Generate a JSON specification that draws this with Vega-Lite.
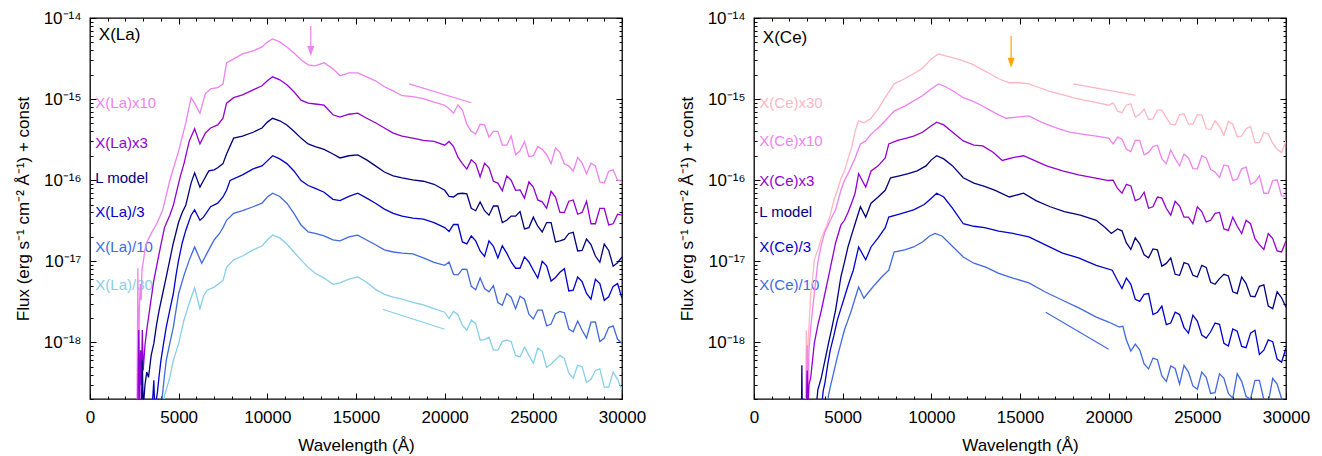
{
"$schema":"https://vega.github.io/schema/vega-lite/v6.json",
"padding":{"left":13,"top":8,"right":5,"bottom":5},
"spacing":30,
"resolve":{"scale":{"color":"independent"}},
"config":{"font":"Liberation Sans","view":{"stroke":"black","strokeWidth":1.3},"axis":{"labelColor":"black","titleColor":"black","tickColor":"black","labelFont":"Liberation Sans","titleFont":"Liberation Sans","tickWidth":1}},
"datasets":{
"la":[
{"s":"X(La)x10","w":2650,"f":1.5e-19},{"s":"X(La)x10","w":2700,"f":8.2e-18},{"s":"X(La)x10","w":2730,"f":1.5e-19},{"s":"X(La)x10","w":2780,"f":2.5e-18},{"s":"X(La)x10","w":2830,"f":5.1e-18},{"s":"X(La)x10","w":2880,"f":3.3e-18},{"s":"X(La)x10","w":2930,"f":7.8e-18},{"s":"X(La)x10","w":3000,"f":9.7e-18},{"s":"X(La)x10","w":3100,"f":1.4e-17},{"s":"X(La)x10","w":3200,"f":1.7e-17},{"s":"X(La)x10","w":3500,"f":2.3e-17},{"s":"X(La)x10","w":3800,"f":3.0e-17},{"s":"X(La)x10","w":4100,"f":4.3e-17},{"s":"X(La)x10","w":4500,"f":9.9e-17},{"s":"X(La)x10","w":5000,"f":2.3e-16},{"s":"X(La)x10","w":5400,"f":5.1e-16},{"s":"X(La)x10","w":5700,"f":1.04e-15},{"s":"X(La)x10","w":5900,"f":8.9e-16},{"s":"X(La)x10","w":6200,"f":6.7e-16},{"s":"X(La)x10","w":6500,"f":1.16e-15},{"s":"X(La)x10","w":6800,"f":1.34e-15},{"s":"X(La)x10","w":7200,"f":1.38e-15},{"s":"X(La)x10","w":7500,"f":1.54e-15},{"s":"X(La)x10","w":7700,"f":2.8e-15},{"s":"X(La)x10","w":8100,"f":3.13e-15},{"s":"X(La)x10","w":8600,"f":3.61e-15},{"s":"X(La)x10","w":9200,"f":3.93e-15},{"s":"X(La)x10","w":9700,"f":4.4e-15},{"s":"X(La)x10","w":10000,"f":5.07e-15},{"s":"X(La)x10","w":10300,"f":5.51e-15},{"s":"X(La)x10","w":10700,"f":5.07e-15},{"s":"X(La)x10","w":11100,"f":4.4e-15},{"s":"X(La)x10","w":11500,"f":3.71e-15},{"s":"X(La)x10","w":11900,"f":3.05e-15},{"s":"X(La)x10","w":12300,"f":2.64e-15},{"s":"X(La)x10","w":12700,"f":2.57e-15},{"s":"X(La)x10","w":13200,"f":2.8e-15},{"s":"X(La)x10","w":13700,"f":2.36e-15},{"s":"X(La)x10","w":14100,"f":1.94e-15},{"s":"X(La)x10","w":14600,"f":2.11e-15},{"s":"X(La)x10","w":15100,"f":2.11e-15},{"s":"X(La)x10","w":15600,"f":1.88e-15},{"s":"X(La)x10","w":16100,"f":1.68e-15},{"s":"X(La)x10","w":16600,"f":1.42e-15},{"s":"X(La)x10","w":17100,"f":1.26e-15},{"s":"X(La)x10","w":17600,"f":1.1e-15},{"s":"X(La)x10","w":18200,"f":1.07e-15},{"s":"X(La)x10","w":18800,"f":1.01e-15},{"s":"X(La)x10","w":19400,"f":9.2e-16},{"s":"X(La)x10","w":20000,"f":8.4e-16},{"s":"X(La)x10","w":20500,"f":6.7e-16},{"s":"X(La)x10","w":21000,"f":7.3e-16},{"s":"X(La)x10","w":21500,"f":4.0e-16},{"s":"X(La)x10","w":22000,"f":4.9e-16},{"s":"X(La)x10","w":22500,"f":3.4e-16},{"s":"X(La)x10","w":23000,"f":4.0e-16},{"s":"X(La)x10","w":23500,"f":2.7e-16},{"s":"X(La)x10","w":24000,"f":2.05e-16},{"s":"X(La)x10","w":24500,"f":3.0e-16},{"s":"X(La)x10","w":25000,"f":2.0e-16},{"s":"X(La)x10","w":25500,"f":2.4e-16},{"s":"X(La)x10","w":26000,"f":1.6e-16},{"s":"X(La)x10","w":26500,"f":2.2e-16},{"s":"X(La)x10","w":27000,"f":1.5e-16},{"s":"X(La)x10","w":27500,"f":1.9e-16},{"s":"X(La)x10","w":28000,"f":1.2e-16},{"s":"X(La)x10","w":28500,"f":1.5e-16},{"s":"X(La)x10","w":29000,"f":9.2e-17},{"s":"X(La)x10","w":29500,"f":1.34e-16},{"s":"X(La)x10","w":30000,"f":9.7e-17},
{"s":"X(La)x10","w":20250,"f":7.6e-16},{"s":"X(La)x10","w":20750,"f":8.5e-16},{"s":"X(La)x10","w":21250,"f":4.9e-16},{"s":"X(La)x10","w":21750,"f":3.7e-16},{"s":"X(La)x10","w":22250,"f":4.8e-16},{"s":"X(La)x10","w":22750,"f":4.0e-16},{"s":"X(La)x10","w":23250,"f":2.7e-16},{"s":"X(La)x10","w":23750,"f":3.5e-16},{"s":"X(La)x10","w":24250,"f":2.3e-16},{"s":"X(La)x10","w":24750,"f":1.95e-16},{"s":"X(La)x10","w":25250,"f":2.6e-16},{"s":"X(La)x10","w":25750,"f":2.06e-16},{"s":"X(La)x10","w":26250,"f":2.5e-16},{"s":"X(La)x10","w":26750,"f":1.58e-16},{"s":"X(La)x10","w":27250,"f":1.29e-16},{"s":"X(La)x10","w":27750,"f":1.62e-16},{"s":"X(La)x10","w":28250,"f":1.62e-16},{"s":"X(La)x10","w":28750,"f":9.5e-17},{"s":"X(La)x10","w":29250,"f":1.29e-16},{"s":"X(La)x10","w":29750,"f":1.0e-16},
{"s":"X(La)x3","w":2700,"f":1.5e-19},{"s":"X(La)x3","w":2750,"f":1.42e-18},{"s":"X(La)x3","w":2800,"f":1.5e-19},{"s":"X(La)x3","w":2850,"f":8.0e-19},{"s":"X(La)x3","w":2900,"f":3.0e-19},{"s":"X(La)x3","w":2950,"f":1.42e-18},{"s":"X(La)x3","w":3000,"f":4.5e-19},{"s":"X(La)x3","w":3100,"f":9.2e-19},{"s":"X(La)x3","w":3200,"f":1.42e-18},{"s":"X(La)x3","w":3400,"f":2.9e-18},{"s":"X(La)x3","w":3600,"f":5.8e-18},{"s":"X(La)x3","w":3800,"f":9.7e-18},{"s":"X(La)x3","w":4000,"f":1.6e-17},{"s":"X(La)x3","w":4200,"f":2.6e-17},{"s":"X(La)x3","w":4500,"f":3.7e-17},{"s":"X(La)x3","w":4700,"f":4.9e-17},{"s":"X(La)x3","w":4900,"f":7.5e-17},{"s":"X(La)x3","w":5100,"f":1.13e-16},{"s":"X(La)x3","w":5300,"f":1.6e-16},{"s":"X(La)x3","w":5600,"f":3.05e-16},{"s":"X(La)x3","w":5900,"f":4.3e-16},{"s":"X(La)x3","w":6200,"f":2.8e-16},{"s":"X(La)x3","w":6500,"f":3.8e-16},{"s":"X(La)x3","w":6800,"f":4.4e-16},{"s":"X(La)x3","w":7200,"f":4.8e-16},{"s":"X(La)x3","w":7500,"f":5.8e-16},{"s":"X(La)x3","w":7700,"f":8.9e-16},{"s":"X(La)x3","w":8100,"f":1.04e-15},{"s":"X(La)x3","w":8600,"f":1.13e-15},{"s":"X(La)x3","w":9200,"f":1.3e-15},{"s":"X(La)x3","w":9700,"f":1.46e-15},{"s":"X(La)x3","w":10000,"f":1.68e-15},{"s":"X(La)x3","w":10300,"f":1.88e-15},{"s":"X(La)x3","w":10700,"f":1.73e-15},{"s":"X(La)x3","w":11100,"f":1.5e-15},{"s":"X(La)x3","w":11500,"f":1.23e-15},{"s":"X(La)x3","w":11900,"f":9.7e-16},{"s":"X(La)x3","w":12300,"f":8.9e-16},{"s":"X(La)x3","w":12700,"f":8.7e-16},{"s":"X(La)x3","w":13200,"f":8.4e-16},{"s":"X(La)x3","w":13700,"f":6.4e-16},{"s":"X(La)x3","w":14100,"f":6.0e-16},{"s":"X(La)x3","w":14600,"f":6.5e-16},{"s":"X(La)x3","w":15100,"f":6.7e-16},{"s":"X(La)x3","w":15600,"f":5.8e-16},{"s":"X(La)x3","w":16100,"f":5.1e-16},{"s":"X(La)x3","w":16600,"f":4.4e-16},{"s":"X(La)x3","w":17100,"f":3.8e-16},{"s":"X(La)x3","w":17600,"f":3.5e-16},{"s":"X(La)x3","w":18200,"f":3.3e-16},{"s":"X(La)x3","w":18800,"f":3.1e-16},{"s":"X(La)x3","w":19400,"f":3.0e-16},{"s":"X(La)x3","w":20000,"f":2.7e-16},{"s":"X(La)x3","w":20500,"f":2.6e-16},{"s":"X(La)x3","w":21000,"f":1.6e-16},{"s":"X(La)x3","w":21500,"f":1.78e-16},{"s":"X(La)x3","w":22000,"f":1.1e-16},{"s":"X(La)x3","w":22500,"f":1.42e-16},{"s":"X(La)x3","w":23000,"f":9.2e-17},{"s":"X(La)x3","w":23500,"f":1.13e-16},{"s":"X(La)x3","w":24000,"f":7.5e-17},{"s":"X(La)x3","w":24500,"f":6.0e-17},{"s":"X(La)x3","w":25000,"f":8.2e-17},{"s":"X(La)x3","w":25500,"f":5.4e-17},{"s":"X(La)x3","w":26000,"f":7.3e-17},{"s":"X(La)x3","w":26500,"f":4.0e-17},{"s":"X(La)x3","w":27000,"f":5.5e-17},{"s":"X(La)x3","w":27500,"f":3.8e-17},{"s":"X(La)x3","w":28000,"f":5.5e-17},{"s":"X(La)x3","w":28500,"f":2.9e-17},{"s":"X(La)x3","w":29000,"f":4.5e-17},{"s":"X(La)x3","w":29500,"f":2.9e-17},{"s":"X(La)x3","w":30000,"f":3.7e-17},
{"s":"X(La)x3","w":20250,"f":3.0e-16},{"s":"X(La)x3","w":20750,"f":1.92e-16},{"s":"X(La)x3","w":21250,"f":1.37e-16},{"s":"X(La)x3","w":21750,"f":1.6e-16},{"s":"X(La)x3","w":22250,"f":1.62e-16},{"s":"X(La)x3","w":22750,"f":9.7e-17},{"s":"X(La)x3","w":23250,"f":7.4e-17},{"s":"X(La)x3","w":23750,"f":1.0e-16},{"s":"X(La)x3","w":24250,"f":7.6e-17},{"s":"X(La)x3","w":24750,"f":9.5e-17},{"s":"X(La)x3","w":25250,"f":5.7e-17},{"s":"X(La)x3","w":25750,"f":4.5e-17},{"s":"X(La)x3","w":26250,"f":6.2e-17},{"s":"X(La)x3","w":26750,"f":4.0e-17},{"s":"X(La)x3","w":27250,"f":5.7e-17},{"s":"X(La)x3","w":27750,"f":4.0e-17},{"s":"X(La)x3","w":28250,"f":2.9e-17},{"s":"X(La)x3","w":28750,"f":4.5e-17},{"s":"X(La)x3","w":29250,"f":2.8e-17},{"s":"X(La)x3","w":29750,"f":3.8e-17},
{"s":"L model","w":2900,"f":1.5e-19},{"s":"L model","w":2950,"f":6.0e-19},{"s":"L model","w":3000,"f":1.5e-19},{"s":"L model","w":3100,"f":3.0e-19},{"s":"L model","w":3200,"f":4.3e-19},{"s":"L model","w":3300,"f":3.7e-19},{"s":"L model","w":3450,"f":6.9e-19},{"s":"L model","w":3600,"f":9.7e-19},{"s":"L model","w":3750,"f":1.63e-18},{"s":"L model","w":3900,"f":2.5e-18},{"s":"L model","w":4100,"f":4.0e-18},{"s":"L model","w":4300,"f":6.4e-18},{"s":"L model","w":4500,"f":1.04e-17},{"s":"L model","w":4700,"f":1.68e-17},{"s":"L model","w":5000,"f":3.05e-17},{"s":"L model","w":5200,"f":4.0e-17},{"s":"L model","w":5400,"f":4.9e-17},{"s":"L model","w":5700,"f":9.2e-17},{"s":"L model","w":5900,"f":1.23e-16},{"s":"L model","w":6200,"f":8.2e-17},{"s":"L model","w":6400,"f":9.9e-17},{"s":"L model","w":6700,"f":1.3e-16},{"s":"L model","w":7000,"f":1.34e-16},{"s":"L model","w":7200,"f":1.42e-16},{"s":"L model","w":7500,"f":1.6e-16},{"s":"L model","w":7700,"f":2.1e-16},{"s":"L model","w":8100,"f":3.3e-16},{"s":"L model","w":8600,"f":3.5e-16},{"s":"L model","w":9200,"f":3.9e-16},{"s":"L model","w":9700,"f":4.4e-16},{"s":"L model","w":10000,"f":5.2e-16},{"s":"L model","w":10300,"f":5.8e-16},{"s":"L model","w":10700,"f":5.4e-16},{"s":"L model","w":11100,"f":4.8e-16},{"s":"L model","w":11500,"f":4.0e-16},{"s":"L model","w":11900,"f":3.3e-16},{"s":"L model","w":12300,"f":2.8e-16},{"s":"L model","w":12700,"f":2.6e-16},{"s":"L model","w":13200,"f":2.4e-16},{"s":"L model","w":13700,"f":2.1e-16},{"s":"L model","w":14100,"f":1.88e-16},{"s":"L model","w":14600,"f":2.0e-16},{"s":"L model","w":15100,"f":2.05e-16},{"s":"L model","w":15600,"f":1.78e-16},{"s":"L model","w":16100,"f":1.5e-16},{"s":"L model","w":16600,"f":1.26e-16},{"s":"L model","w":17100,"f":1.13e-16},{"s":"L model","w":17600,"f":1.07e-16},{"s":"L model","w":18200,"f":1.01e-16},{"s":"L model","w":18800,"f":9.7e-17},{"s":"L model","w":19400,"f":8.9e-17},{"s":"L model","w":20000,"f":7.5e-17},{"s":"L model","w":20500,"f":6.2e-17},{"s":"L model","w":21000,"f":6.9e-17},{"s":"L model","w":21500,"f":4.5e-17},{"s":"L model","w":22000,"f":5.4e-17},{"s":"L model","w":22500,"f":3.7e-17},{"s":"L model","w":23000,"f":4.8e-17},{"s":"L model","w":23500,"f":3.2e-17},{"s":"L model","w":24000,"f":3.6e-17},{"s":"L model","w":24500,"f":2.5e-17},{"s":"L model","w":25000,"f":3.5e-17},{"s":"L model","w":25500,"f":2.3e-17},{"s":"L model","w":26000,"f":3.0e-17},{"s":"L model","w":26500,"f":1.78e-17},{"s":"L model","w":27000,"f":2.2e-17},{"s":"L model","w":27500,"f":1.34e-17},{"s":"L model","w":28000,"f":1.88e-17},{"s":"L model","w":28500,"f":1.16e-17},{"s":"L model","w":29000,"f":1.63e-17},{"s":"L model","w":29500,"f":8.7e-18},{"s":"L model","w":30000,"f":1.13e-17},
{"s":"L model","w":20250,"f":6.3e-17},{"s":"L model","w":20750,"f":6.8e-17},{"s":"L model","w":21250,"f":6.8e-17},{"s":"L model","w":21750,"f":4.2e-17},{"s":"L model","w":22250,"f":4.2e-17},{"s":"L model","w":22750,"f":4.8e-17},{"s":"L model","w":23250,"f":3.0e-17},{"s":"L model","w":23750,"f":3.6e-17},{"s":"L model","w":24250,"f":4.1e-17},{"s":"L model","w":24750,"f":2.6e-17},{"s":"L model","w":25250,"f":2.7e-17},{"s":"L model","w":25750,"f":3.0e-17},{"s":"L model","w":26250,"f":1.73e-17},{"s":"L model","w":26750,"f":1.86e-17},{"s":"L model","w":27250,"f":2.27e-17},{"s":"L model","w":27750,"f":1.36e-17},{"s":"L model","w":28250,"f":1.61e-17},{"s":"L model","w":28750,"f":9.7e-18},{"s":"L model","w":29250,"f":1.36e-17},{"s":"L model","w":29750,"f":9.6e-18},
{"s":"X(La)/3","w":3500,"f":1.5e-19},{"s":"X(La)/3","w":3600,"f":3.4e-19},{"s":"X(La)/3","w":3650,"f":1.5e-19},{"s":"X(La)/3","w":3800,"f":2.4e-19},{"s":"X(La)/3","w":3900,"f":3.9e-19},{"s":"X(La)/3","w":4000,"f":6.0e-19},{"s":"X(La)/3","w":4150,"f":9.7e-19},{"s":"X(La)/3","w":4300,"f":1.54e-18},{"s":"X(La)/3","w":4500,"f":2.5e-18},{"s":"X(La)/3","w":4700,"f":4.0e-18},{"s":"X(La)/3","w":4850,"f":6.7e-18},{"s":"X(La)/3","w":5000,"f":1.04e-17},{"s":"X(La)/3","w":5200,"f":1.68e-17},{"s":"X(La)/3","w":5400,"f":2.4e-17},{"s":"X(La)/3","w":5700,"f":3.7e-17},{"s":"X(La)/3","w":5900,"f":4.3e-17},{"s":"X(La)/3","w":6200,"f":3.2e-17},{"s":"X(La)/3","w":6400,"f":3.5e-17},{"s":"X(La)/3","w":6800,"f":4.7e-17},{"s":"X(La)/3","w":7200,"f":5.2e-17},{"s":"X(La)/3","w":7500,"f":6.2e-17},{"s":"X(La)/3","w":7700,"f":7.5e-17},{"s":"X(La)/3","w":7900,"f":9.9e-17},{"s":"X(La)/3","w":8600,"f":1.16e-16},{"s":"X(La)/3","w":9200,"f":1.38e-16},{"s":"X(La)/3","w":9700,"f":1.5e-16},{"s":"X(La)/3","w":10000,"f":1.73e-16},{"s":"X(La)/3","w":10300,"f":2.0e-16},{"s":"X(La)/3","w":10700,"f":1.83e-16},{"s":"X(La)/3","w":11100,"f":1.6e-16},{"s":"X(La)/3","w":11500,"f":1.3e-16},{"s":"X(La)/3","w":11900,"f":9.9e-17},{"s":"X(La)/3","w":12300,"f":8.6e-17},{"s":"X(La)/3","w":12700,"f":7.9e-17},{"s":"X(La)/3","w":13200,"f":7.1e-17},{"s":"X(La)/3","w":13700,"f":5.8e-17},{"s":"X(La)/3","w":14100,"f":5.6e-17},{"s":"X(La)/3","w":14600,"f":6.3e-17},{"s":"X(La)/3","w":15100,"f":6.9e-17},{"s":"X(La)/3","w":15600,"f":6.0e-17},{"s":"X(La)/3","w":16100,"f":5.2e-17},{"s":"X(La)/3","w":16600,"f":4.4e-17},{"s":"X(La)/3","w":17100,"f":3.9e-17},{"s":"X(La)/3","w":17600,"f":3.6e-17},{"s":"X(La)/3","w":18200,"f":3.4e-17},{"s":"X(La)/3","w":18800,"f":3.3e-17},{"s":"X(La)/3","w":19400,"f":3.0e-17},{"s":"X(La)/3","w":20000,"f":2.6e-17},{"s":"X(La)/3","w":20500,"f":2.85e-17},{"s":"X(La)/3","w":21000,"f":1.73e-17},{"s":"X(La)/3","w":21500,"f":2.05e-17},{"s":"X(La)/3","w":22000,"f":1.34e-17},{"s":"X(La)/3","w":22500,"f":1.78e-17},{"s":"X(La)/3","w":23000,"f":1.1e-17},{"s":"X(La)/3","w":23500,"f":1.26e-17},{"s":"X(La)/3","w":24000,"f":8.2e-18},{"s":"X(La)/3","w":24500,"f":1.13e-17},{"s":"X(La)/3","w":25000,"f":7.75e-18},{"s":"X(La)/3","w":25500,"f":1.0e-17},{"s":"X(La)/3","w":26000,"f":5.7e-18},{"s":"X(La)/3","w":26500,"f":7.3e-18},{"s":"X(La)/3","w":27000,"f":4.3e-18},{"s":"X(La)/3","w":27500,"f":6.4e-18},{"s":"X(La)/3","w":28000,"f":4.0e-18},{"s":"X(La)/3","w":28500,"f":6.0e-18},{"s":"X(La)/3","w":29000,"f":3.3e-18},{"s":"X(La)/3","w":29500,"f":4.9e-18},{"s":"X(La)/3","w":30000,"f":3.5e-18},
{"s":"X(La)/3","w":20250,"f":2.33e-17},{"s":"X(La)/3","w":20750,"f":2.84e-17},{"s":"X(La)/3","w":21250,"f":1.64e-17},{"s":"X(La)/3","w":21750,"f":1.78e-17},{"s":"X(La)/3","w":22250,"f":1.15e-17},{"s":"X(La)/3","w":22750,"f":1.53e-17},{"s":"X(La)/3","w":23250,"f":1.55e-17},{"s":"X(La)/3","w":23750,"f":9.8e-18},{"s":"X(La)/3","w":24250,"f":8.2e-18},{"s":"X(La)/3","w":24750,"f":9.8e-18},{"s":"X(La)/3","w":25250,"f":6.2e-18},{"s":"X(La)/3","w":25750,"f":8.8e-18},{"s":"X(La)/3","w":26250,"f":6.3e-18},{"s":"X(La)/3","w":26750,"f":8.1e-18},{"s":"X(La)/3","w":27250,"f":4.4e-18},{"s":"X(La)/3","w":27750,"f":5.6e-18},{"s":"X(La)/3","w":28250,"f":3.4e-18},{"s":"X(La)/3","w":28750,"f":5.3e-18},{"s":"X(La)/3","w":29250,"f":3.65e-18},{"s":"X(La)/3","w":29750,"f":5.3e-18},
{"s":"X(La)/10","w":4000,"f":1.5e-19},{"s":"X(La)/10","w":4100,"f":2.4e-19},{"s":"X(La)/10","w":4200,"f":3.9e-19},{"s":"X(La)/10","w":4300,"f":6.0e-19},{"s":"X(La)/10","w":4500,"f":9.7e-19},{"s":"X(La)/10","w":4700,"f":1.54e-18},{"s":"X(La)/10","w":4850,"f":2.5e-18},{"s":"X(La)/10","w":5000,"f":4.0e-18},{"s":"X(La)/10","w":5300,"f":6.7e-18},{"s":"X(La)/10","w":5600,"f":1.04e-17},{"s":"X(La)/10","w":5900,"f":1.5e-17},{"s":"X(La)/10","w":6300,"f":9.45e-18},{"s":"X(La)/10","w":6600,"f":1.26e-17},{"s":"X(La)/10","w":7000,"f":1.83e-17},{"s":"X(La)/10","w":7300,"f":2.2e-17},{"s":"X(La)/10","w":7500,"f":2.6e-17},{"s":"X(La)/10","w":7700,"f":3.2e-17},{"s":"X(La)/10","w":8100,"f":3.9e-17},{"s":"X(La)/10","w":8600,"f":4.2e-17},{"s":"X(La)/10","w":9200,"f":4.7e-17},{"s":"X(La)/10","w":9700,"f":5.2e-17},{"s":"X(La)/10","w":10000,"f":6.2e-17},{"s":"X(La)/10","w":10300,"f":6.9e-17},{"s":"X(La)/10","w":10700,"f":6.3e-17},{"s":"X(La)/10","w":11100,"f":5.2e-17},{"s":"X(La)/10","w":11500,"f":3.9e-17},{"s":"X(La)/10","w":11900,"f":2.8e-17},{"s":"X(La)/10","w":12300,"f":2.3e-17},{"s":"X(La)/10","w":12700,"f":2.2e-17},{"s":"X(La)/10","w":13200,"f":2.05e-17},{"s":"X(La)/10","w":13700,"f":1.83e-17},{"s":"X(La)/10","w":14100,"f":1.78e-17},{"s":"X(La)/10","w":14600,"f":2.0e-17},{"s":"X(La)/10","w":15100,"f":2.1e-17},{"s":"X(La)/10","w":15600,"f":1.83e-17},{"s":"X(La)/10","w":16100,"f":1.6e-17},{"s":"X(La)/10","w":16600,"f":1.38e-17},{"s":"X(La)/10","w":17100,"f":1.3e-17},{"s":"X(La)/10","w":17600,"f":1.26e-17},{"s":"X(La)/10","w":18200,"f":1.23e-17},{"s":"X(La)/10","w":18800,"f":1.1e-17},{"s":"X(La)/10","w":19400,"f":9.7e-18},{"s":"X(La)/10","w":20000,"f":8.9e-18},{"s":"X(La)/10","w":20500,"f":6.9e-18},{"s":"X(La)/10","w":21000,"f":8.0e-18},{"s":"X(La)/10","w":21500,"f":4.9e-18},{"s":"X(La)/10","w":22000,"f":6.2e-18},{"s":"X(La)/10","w":22500,"f":4.2e-18},{"s":"X(La)/10","w":23000,"f":3.1e-18},{"s":"X(La)/10","w":23500,"f":4.0e-18},{"s":"X(La)/10","w":24000,"f":2.6e-18},{"s":"X(La)/10","w":24500,"f":3.4e-18},{"s":"X(La)/10","w":25000,"f":1.94e-18},{"s":"X(La)/10","w":25500,"f":2.5e-18},{"s":"X(La)/10","w":26000,"f":1.68e-18},{"s":"X(La)/10","w":26500,"f":2.4e-18},{"s":"X(La)/10","w":27000,"f":1.46e-18},{"s":"X(La)/10","w":27500,"f":1.83e-18},{"s":"X(La)/10","w":28000,"f":1.13e-18},{"s":"X(La)/10","w":28500,"f":1.78e-18},{"s":"X(La)/10","w":29000,"f":1.13e-18},{"s":"X(La)/10","w":29500,"f":1.6e-18},{"s":"X(La)/10","w":30000,"f":9.7e-19},
{"s":"X(La)/10","w":20250,"f":9.8e-18},{"s":"X(La)/10","w":20750,"f":6.8e-18},{"s":"X(La)/10","w":21250,"f":7.95e-18},{"s":"X(La)/10","w":21750,"f":4.45e-18},{"s":"X(La)/10","w":22250,"f":4.6e-18},{"s":"X(La)/10","w":22750,"f":5.0e-18},{"s":"X(La)/10","w":23250,"f":2.87e-18},{"s":"X(La)/10","w":23750,"f":3.6e-18},{"s":"X(La)/10","w":24250,"f":3.7e-18},{"s":"X(La)/10","w":24750,"f":2.22e-18},{"s":"X(La)/10","w":25250,"f":2.5e-18},{"s":"X(La)/10","w":25750,"f":1.6e-18},{"s":"X(La)/10","w":26250,"f":2.26e-18},{"s":"X(La)/10","w":26750,"f":2.32e-18},{"s":"X(La)/10","w":27250,"f":1.35e-18},{"s":"X(La)/10","w":27750,"f":1.41e-18},{"s":"X(La)/10","w":28250,"f":1.77e-18},{"s":"X(La)/10","w":28750,"f":1.02e-18},{"s":"X(La)/10","w":29250,"f":1.52e-18},{"s":"X(La)/10","w":29750,"f":1.09e-18},
{"s":"X(La)/30","w":4100,"f":1.5e-19},{"s":"X(La)/30","w":4200,"f":2.2e-19},{"s":"X(La)/30","w":4300,"f":2.6e-19},{"s":"X(La)/30","w":4500,"f":3.7e-19},{"s":"X(La)/30","w":4700,"f":6.0e-19},{"s":"X(La)/30","w":5000,"f":9.7e-19},{"s":"X(La)/30","w":5300,"f":1.88e-18},{"s":"X(La)/30","w":5600,"f":3.05e-18},{"s":"X(La)/30","w":5900,"f":4.7e-18},{"s":"X(La)/30","w":6200,"f":2.6e-18},{"s":"X(La)/30","w":6400,"f":3.7e-18},{"s":"X(La)/30","w":6600,"f":4.4e-18},{"s":"X(La)/30","w":7000,"f":4.8e-18},{"s":"X(La)/30","w":7500,"f":5.8e-18},{"s":"X(La)/30","w":7700,"f":8.4e-18},{"s":"X(La)/30","w":8100,"f":1.04e-17},{"s":"X(La)/30","w":8600,"f":1.16e-17},{"s":"X(La)/30","w":9200,"f":1.38e-17},{"s":"X(La)/30","w":9700,"f":1.54e-17},{"s":"X(La)/30","w":10000,"f":1.83e-17},{"s":"X(La)/30","w":10300,"f":2.1e-17},{"s":"X(La)/30","w":10700,"f":1.94e-17},{"s":"X(La)/30","w":11100,"f":1.63e-17},{"s":"X(La)/30","w":11500,"f":1.3e-17},{"s":"X(La)/30","w":11900,"f":1.04e-17},{"s":"X(La)/30","w":12300,"f":8.4e-18},{"s":"X(La)/30","w":12700,"f":7.1e-18},{"s":"X(La)/30","w":13200,"f":6.2e-18},{"s":"X(La)/30","w":13700,"f":5.2e-18},{"s":"X(La)/30","w":14100,"f":5.4e-18},{"s":"X(La)/30","w":14600,"f":6.0e-18},{"s":"X(La)/30","w":15100,"f":6.4e-18},{"s":"X(La)/30","w":15600,"f":5.5e-18},{"s":"X(La)/30","w":16100,"f":4.5e-18},{"s":"X(La)/30","w":16600,"f":3.9e-18},{"s":"X(La)/30","w":17100,"f":3.6e-18},{"s":"X(La)/30","w":17600,"f":3.4e-18},{"s":"X(La)/30","w":18200,"f":3.1e-18},{"s":"X(La)/30","w":18800,"f":2.9e-18},{"s":"X(La)/30","w":19400,"f":2.6e-18},{"s":"X(La)/30","w":20000,"f":2.35e-18},{"s":"X(La)/30","w":20500,"f":2.4e-18},{"s":"X(La)/30","w":21000,"f":1.63e-18},{"s":"X(La)/30","w":21500,"f":1.88e-18},{"s":"X(La)/30","w":22000,"f":1.07e-18},{"s":"X(La)/30","w":22500,"f":1.16e-18},{"s":"X(La)/30","w":23000,"f":8.0e-19},{"s":"X(La)/30","w":23500,"f":1.07e-18},{"s":"X(La)/30","w":24000,"f":6.9e-19},{"s":"X(La)/30","w":24500,"f":8.7e-19},{"s":"X(La)/30","w":25000,"f":5.5e-19},{"s":"X(La)/30","w":25500,"f":7.75e-19},{"s":"X(La)/30","w":26000,"f":5.4e-19},{"s":"X(La)/30","w":26500,"f":6.9e-19},{"s":"X(La)/30","w":27000,"f":4.2e-19},{"s":"X(La)/30","w":27500,"f":5.2e-19},{"s":"X(La)/30","w":28000,"f":3.2e-19},{"s":"X(La)/30","w":28500,"f":4.5e-19},{"s":"X(La)/30","w":29000,"f":2.8e-19},{"s":"X(La)/30","w":29500,"f":4.3e-19},{"s":"X(La)/30","w":30000,"f":2.6e-19},
{"s":"X(La)/30","w":20250,"f":1.96e-18},{"s":"X(La)/30","w":20750,"f":2.19e-18},{"s":"X(La)/30","w":21250,"f":1.41e-18},{"s":"X(La)/30","w":21750,"f":1.7e-18},{"s":"X(La)/30","w":22250,"f":1.08e-18},{"s":"X(La)/30","w":22750,"f":8.0e-19},{"s":"X(La)/30","w":23250,"f":1.02e-18},{"s":"X(La)/30","w":23750,"f":1.02e-18},{"s":"X(La)/30","w":24250,"f":6.6e-19},{"s":"X(La)/30","w":24750,"f":6.9e-19},{"s":"X(La)/30","w":25250,"f":8.5e-19},{"s":"X(La)/30","w":25750,"f":4.9e-19},{"s":"X(La)/30","w":26250,"f":6.1e-19},{"s":"X(La)/30","w":26750,"f":6.3e-19},{"s":"X(La)/30","w":27250,"f":3.6e-19},{"s":"X(La)/30","w":27750,"f":5.0e-19},{"s":"X(La)/30","w":28250,"f":3.5e-19},{"s":"X(La)/30","w":28750,"f":4.7e-19},{"s":"X(La)/30","w":29250,"f":2.8e-19},{"s":"X(La)/30","w":29750,"f":3.5e-19}
],
"ce":[
{"s":"X(Ce)x30","w":2900,"f":1.5e-19},{"s":"X(Ce)x30","w":2950,"f":1.42e-18},{"s":"X(Ce)x30","w":3000,"f":1.5e-19},{"s":"X(Ce)x30","w":3050,"f":1.07e-18},{"s":"X(Ce)x30","w":3100,"f":1.54e-18},{"s":"X(Ce)x30","w":3200,"f":4.0e-18},{"s":"X(Ce)x30","w":3300,"f":5.8e-18},{"s":"X(Ce)x30","w":3400,"f":1.04e-17},{"s":"X(Ce)x30","w":3600,"f":1.38e-17},{"s":"X(Ce)x30","w":3800,"f":1.94e-17},{"s":"X(Ce)x30","w":4050,"f":2.6e-17},{"s":"X(Ce)x30","w":4300,"f":3.7e-17},{"s":"X(Ce)x30","w":4500,"f":5.6e-17},{"s":"X(Ce)x30","w":4700,"f":7.5e-17},{"s":"X(Ce)x30","w":4900,"f":1.04e-16},{"s":"X(Ce)x30","w":5100,"f":1.3e-16},{"s":"X(Ce)x30","w":5300,"f":1.83e-16},{"s":"X(Ce)x30","w":5500,"f":2.5e-16},{"s":"X(Ce)x30","w":5700,"f":4.0e-16},{"s":"X(Ce)x30","w":5900,"f":5.4e-16},{"s":"X(Ce)x30","w":6200,"f":5.1e-16},{"s":"X(Ce)x30","w":6600,"f":5.8e-16},{"s":"X(Ce)x30","w":7000,"f":7.5e-16},{"s":"X(Ce)x30","w":7400,"f":1.04e-15},{"s":"X(Ce)x30","w":7900,"f":1.54e-15},{"s":"X(Ce)x30","w":8500,"f":1.78e-15},{"s":"X(Ce)x30","w":9000,"f":2.05e-15},{"s":"X(Ce)x30","w":9500,"f":2.4e-15},{"s":"X(Ce)x30","w":10000,"f":3.13e-15},{"s":"X(Ce)x30","w":10400,"f":3.61e-15},{"s":"X(Ce)x30","w":10800,"f":3.4e-15},{"s":"X(Ce)x30","w":11300,"f":3.2e-15},{"s":"X(Ce)x30","w":11800,"f":2.96e-15},{"s":"X(Ce)x30","w":12300,"f":2.7e-15},{"s":"X(Ce)x30","w":12800,"f":2.36e-15},{"s":"X(Ce)x30","w":13300,"f":2.05e-15},{"s":"X(Ce)x30","w":13800,"f":1.78e-15},{"s":"X(Ce)x30","w":14400,"f":1.59e-15},{"s":"X(Ce)x30","w":15000,"f":1.59e-15},{"s":"X(Ce)x30","w":15500,"f":1.54e-15},{"s":"X(Ce)x30","w":16100,"f":1.38e-15},{"s":"X(Ce)x30","w":16600,"f":1.26e-15},{"s":"X(Ce)x30","w":17200,"f":1.16e-15},{"s":"X(Ce)x30","w":17600,"f":1.1e-15},{"s":"X(Ce)x30","w":18000,"f":1.04e-15},{"s":"X(Ce)x30","w":18600,"f":9.7e-16},{"s":"X(Ce)x30","w":19200,"f":9.2e-16},{"s":"X(Ce)x30","w":20000,"f":8.4e-16},{"s":"X(Ce)x30","w":20500,"f":7.1e-16},{"s":"X(Ce)x30","w":21000,"f":8.4e-16},{"s":"X(Ce)x30","w":21500,"f":6.0e-16},{"s":"X(Ce)x30","w":22000,"f":7.5e-16},{"s":"X(Ce)x30","w":22500,"f":5.7e-16},{"s":"X(Ce)x30","w":23000,"f":7.3e-16},{"s":"X(Ce)x30","w":23500,"f":4.9e-16},{"s":"X(Ce)x30","w":24000,"f":6.4e-16},{"s":"X(Ce)x30","w":24500,"f":4.9e-16},{"s":"X(Ce)x30","w":25000,"f":6.4e-16},{"s":"X(Ce)x30","w":25500,"f":4.3e-16},{"s":"X(Ce)x30","w":26000,"f":5.4e-16},{"s":"X(Ce)x30","w":26500,"f":3.6e-16},{"s":"X(Ce)x30","w":27000,"f":4.9e-16},{"s":"X(Ce)x30","w":27500,"f":3.5e-16},{"s":"X(Ce)x30","w":28000,"f":4.6e-16},{"s":"X(Ce)x30","w":28500,"f":2.9e-16},{"s":"X(Ce)x30","w":29000,"f":3.7e-16},{"s":"X(Ce)x30","w":29500,"f":2.4e-16},{"s":"X(Ce)x30","w":30000,"f":3.05e-16},
{"s":"X(Ce)x30","w":20250,"f":9.0e-16},{"s":"X(Ce)x30","w":20750,"f":6.8e-16},{"s":"X(Ce)x30","w":21250,"f":8.75e-16},{"s":"X(Ce)x30","w":21750,"f":6.5e-16},{"s":"X(Ce)x30","w":22250,"f":5.6e-16},{"s":"X(Ce)x30","w":22750,"f":7.3e-16},{"s":"X(Ce)x30","w":23250,"f":5.9e-16},{"s":"X(Ce)x30","w":23750,"f":4.8e-16},{"s":"X(Ce)x30","w":24250,"f":6.6e-16},{"s":"X(Ce)x30","w":24750,"f":4.9e-16},{"s":"X(Ce)x30","w":25250,"f":6.4e-16},{"s":"X(Ce)x30","w":25750,"f":4.2e-16},{"s":"X(Ce)x30","w":26250,"f":4.6e-16},{"s":"X(Ce)x30","w":26750,"f":5.3e-16},{"s":"X(Ce)x30","w":27250,"f":3.4e-16},{"s":"X(Ce)x30","w":27750,"f":4.3e-16},{"s":"X(Ce)x30","w":28250,"f":2.9e-16},{"s":"X(Ce)x30","w":28750,"f":3.9e-16},{"s":"X(Ce)x30","w":29250,"f":2.86e-16},{"s":"X(Ce)x30","w":29750,"f":2.2e-16},
{"s":"X(Ce)x10","w":2950,"f":1.5e-19},{"s":"X(Ce)x10","w":3000,"f":9.2e-19},{"s":"X(Ce)x10","w":3050,"f":1.5e-19},{"s":"X(Ce)x10","w":3100,"f":8.0e-19},{"s":"X(Ce)x10","w":3200,"f":1.54e-18},{"s":"X(Ce)x10","w":3400,"f":4.0e-18},{"s":"X(Ce)x10","w":3600,"f":9.7e-18},{"s":"X(Ce)x10","w":3800,"f":1.6e-17},{"s":"X(Ce)x10","w":4000,"f":2.3e-17},{"s":"X(Ce)x10","w":4300,"f":3.2e-17},{"s":"X(Ce)x10","w":4600,"f":4.3e-17},{"s":"X(Ce)x10","w":4900,"f":7.5e-17},{"s":"X(Ce)x10","w":5100,"f":9.9e-17},{"s":"X(Ce)x10","w":5300,"f":1.2e-16},{"s":"X(Ce)x10","w":5500,"f":1.5e-16},{"s":"X(Ce)x10","w":5700,"f":1.88e-16},{"s":"X(Ce)x10","w":6000,"f":2.8e-16},{"s":"X(Ce)x10","w":6300,"f":3.05e-16},{"s":"X(Ce)x10","w":6600,"f":3.7e-16},{"s":"X(Ce)x10","w":7000,"f":4.4e-16},{"s":"X(Ce)x10","w":7400,"f":5.4e-16},{"s":"X(Ce)x10","w":7900,"f":7.1e-16},{"s":"X(Ce)x10","w":8500,"f":8.2e-16},{"s":"X(Ce)x10","w":9000,"f":9.5e-16},{"s":"X(Ce)x10","w":9500,"f":1.1e-15},{"s":"X(Ce)x10","w":10000,"f":1.34e-15},{"s":"X(Ce)x10","w":10400,"f":1.54e-15},{"s":"X(Ce)x10","w":10800,"f":1.42e-15},{"s":"X(Ce)x10","w":11300,"f":1.23e-15},{"s":"X(Ce)x10","w":11800,"f":1.04e-15},{"s":"X(Ce)x10","w":12300,"f":9.5e-16},{"s":"X(Ce)x10","w":12800,"f":8.4e-16},{"s":"X(Ce)x10","w":13300,"f":7.3e-16},{"s":"X(Ce)x10","w":13800,"f":6.4e-16},{"s":"X(Ce)x10","w":14200,"f":5.8e-16},{"s":"X(Ce)x10","w":14800,"f":6.0e-16},{"s":"X(Ce)x10","w":15500,"f":6.2e-16},{"s":"X(Ce)x10","w":16200,"f":5.2e-16},{"s":"X(Ce)x10","w":16700,"f":4.7e-16},{"s":"X(Ce)x10","w":17200,"f":4.3e-16},{"s":"X(Ce)x10","w":17800,"f":3.9e-16},{"s":"X(Ce)x10","w":18500,"f":3.7e-16},{"s":"X(Ce)x10","w":19300,"f":3.5e-16},{"s":"X(Ce)x10","w":20000,"f":3.3e-16},{"s":"X(Ce)x10","w":20500,"f":3.4e-16},{"s":"X(Ce)x10","w":21000,"f":2.4e-16},{"s":"X(Ce)x10","w":21500,"f":3.1e-16},{"s":"X(Ce)x10","w":22000,"f":2.05e-16},{"s":"X(Ce)x10","w":22500,"f":2.6e-16},{"s":"X(Ce)x10","w":23000,"f":1.83e-16},{"s":"X(Ce)x10","w":23500,"f":2.36e-16},{"s":"X(Ce)x10","w":24000,"f":1.5e-16},{"s":"X(Ce)x10","w":24500,"f":1.88e-16},{"s":"X(Ce)x10","w":25000,"f":1.38e-16},{"s":"X(Ce)x10","w":25500,"f":1.88e-16},{"s":"X(Ce)x10","w":26000,"f":1.26e-16},{"s":"X(Ce)x10","w":26500,"f":1.54e-16},{"s":"X(Ce)x10","w":27000,"f":9.9e-17},{"s":"X(Ce)x10","w":27500,"f":1.38e-16},{"s":"X(Ce)x10","w":28000,"f":8.9e-17},{"s":"X(Ce)x10","w":28500,"f":1.13e-16},{"s":"X(Ce)x10","w":29000,"f":6.9e-17},{"s":"X(Ce)x10","w":29500,"f":1.01e-16},{"s":"X(Ce)x10","w":30000,"f":6.3e-17},
{"s":"X(Ce)x10","w":20250,"f":2.8e-16},{"s":"X(Ce)x10","w":20750,"f":3.2e-16},{"s":"X(Ce)x10","w":21250,"f":2.25e-16},{"s":"X(Ce)x10","w":21750,"f":3.1e-16},{"s":"X(Ce)x10","w":22250,"f":2.2e-16},{"s":"X(Ce)x10","w":22750,"f":2.7e-16},{"s":"X(Ce)x10","w":23250,"f":1.6e-16},{"s":"X(Ce)x10","w":23750,"f":1.84e-16},{"s":"X(Ce)x10","w":24250,"f":2.1e-16},{"s":"X(Ce)x10","w":24750,"f":1.39e-16},{"s":"X(Ce)x10","w":25250,"f":2.0e-16},{"s":"X(Ce)x10","w":25750,"f":1.35e-16},{"s":"X(Ce)x10","w":26250,"f":1.08e-16},{"s":"X(Ce)x10","w":26750,"f":1.49e-16},{"s":"X(Ce)x10","w":27250,"f":1.03e-16},{"s":"X(Ce)x10","w":27750,"f":1.45e-16},{"s":"X(Ce)x10","w":28250,"f":9.5e-17},{"s":"X(Ce)x10","w":28750,"f":6.9e-17},{"s":"X(Ce)x10","w":29250,"f":9.9e-17},{"s":"X(Ce)x10","w":29750,"f":6.4e-17},
{"s":"X(Ce)x3","w":2950,"f":1.5e-19},{"s":"X(Ce)x3","w":3000,"f":4.5e-19},{"s":"X(Ce)x3","w":3050,"f":1.5e-19},{"s":"X(Ce)x3","w":3100,"f":3.0e-19},{"s":"X(Ce)x3","w":3200,"f":3.7e-19},{"s":"X(Ce)x3","w":3400,"f":9.7e-19},{"s":"X(Ce)x3","w":3600,"f":1.63e-18},{"s":"X(Ce)x3","w":3800,"f":2.5e-18},{"s":"X(Ce)x3","w":4000,"f":4.0e-18},{"s":"X(Ce)x3","w":4200,"f":6.4e-18},{"s":"X(Ce)x3","w":4400,"f":1.04e-17},{"s":"X(Ce)x3","w":4600,"f":1.68e-17},{"s":"X(Ce)x3","w":4900,"f":2.8e-17},{"s":"X(Ce)x3","w":5100,"f":3.2e-17},{"s":"X(Ce)x3","w":5300,"f":4.0e-17},{"s":"X(Ce)x3","w":5500,"f":5.2e-17},{"s":"X(Ce)x3","w":5700,"f":6.9e-17},{"s":"X(Ce)x3","w":5900,"f":1.2e-16},{"s":"X(Ce)x3","w":6100,"f":9.9e-17},{"s":"X(Ce)x3","w":6300,"f":8.2e-17},{"s":"X(Ce)x3","w":6600,"f":1.3e-16},{"s":"X(Ce)x3","w":7000,"f":1.5e-16},{"s":"X(Ce)x3","w":7400,"f":1.88e-16},{"s":"X(Ce)x3","w":7600,"f":2.8e-16},{"s":"X(Ce)x3","w":8100,"f":3.1e-16},{"s":"X(Ce)x3","w":8600,"f":3.3e-16},{"s":"X(Ce)x3","w":9000,"f":3.5e-16},{"s":"X(Ce)x3","w":9500,"f":3.9e-16},{"s":"X(Ce)x3","w":10000,"f":4.7e-16},{"s":"X(Ce)x3","w":10300,"f":5.2e-16},{"s":"X(Ce)x3","w":10700,"f":4.8e-16},{"s":"X(Ce)x3","w":11200,"f":3.9e-16},{"s":"X(Ce)x3","w":11800,"f":3.05e-16},{"s":"X(Ce)x3","w":12400,"f":2.7e-16},{"s":"X(Ce)x3","w":12900,"f":2.65e-16},{"s":"X(Ce)x3","w":13500,"f":2.2e-16},{"s":"X(Ce)x3","w":14000,"f":1.75e-16},{"s":"X(Ce)x3","w":14600,"f":1.9e-16},{"s":"X(Ce)x3","w":15200,"f":2.0e-16},{"s":"X(Ce)x3","w":15800,"f":1.75e-16},{"s":"X(Ce)x3","w":16500,"f":1.5e-16},{"s":"X(Ce)x3","w":17400,"f":1.3e-16},{"s":"X(Ce)x3","w":18300,"f":1.16e-16},{"s":"X(Ce)x3","w":19200,"f":1.07e-16},{"s":"X(Ce)x3","w":20000,"f":9.9e-17},{"s":"X(Ce)x3","w":20500,"f":7.9e-17},{"s":"X(Ce)x3","w":21000,"f":8.9e-17},{"s":"X(Ce)x3","w":21500,"f":5.6e-17},{"s":"X(Ce)x3","w":22000,"f":7.1e-17},{"s":"X(Ce)x3","w":22500,"f":4.7e-17},{"s":"X(Ce)x3","w":23000,"f":6.0e-17},{"s":"X(Ce)x3","w":23500,"f":3.7e-17},{"s":"X(Ce)x3","w":24000,"f":4.8e-17},{"s":"X(Ce)x3","w":24500,"f":3.5e-17},{"s":"X(Ce)x3","w":25000,"f":4.7e-17},{"s":"X(Ce)x3","w":25500,"f":3.05e-17},{"s":"X(Ce)x3","w":26000,"f":3.9e-17},{"s":"X(Ce)x3","w":26500,"f":2.5e-17},{"s":"X(Ce)x3","w":27000,"f":3.5e-17},{"s":"X(Ce)x3","w":27500,"f":2.2e-17},{"s":"X(Ce)x3","w":28000,"f":2.9e-17},{"s":"X(Ce)x3","w":28500,"f":1.6e-17},{"s":"X(Ce)x3","w":29000,"f":2.2e-17},{"s":"X(Ce)x3","w":29500,"f":1.34e-17},{"s":"X(Ce)x3","w":30000,"f":1.78e-17},
{"s":"X(Ce)x3","w":20250,"f":1.0e-16},{"s":"X(Ce)x3","w":20750,"f":6.9e-17},{"s":"X(Ce)x3","w":21250,"f":8.5e-17},{"s":"X(Ce)x3","w":21750,"f":5.9e-17},{"s":"X(Ce)x3","w":22250,"f":4.5e-17},{"s":"X(Ce)x3","w":22750,"f":6.2e-17},{"s":"X(Ce)x3","w":23250,"f":4.5e-17},{"s":"X(Ce)x3","w":23750,"f":5.5e-17},{"s":"X(Ce)x3","w":24250,"f":3.5e-17},{"s":"X(Ce)x3","w":24750,"f":2.9e-17},{"s":"X(Ce)x3","w":25250,"f":4.1e-17},{"s":"X(Ce)x3","w":25750,"f":3.2e-17},{"s":"X(Ce)x3","w":26250,"f":4.0e-17},{"s":"X(Ce)x3","w":26750,"f":2.4e-17},{"s":"X(Ce)x3","w":27250,"f":2.7e-17},{"s":"X(Ce)x3","w":27750,"f":3.2e-17},{"s":"X(Ce)x3","w":28250,"f":1.9e-17},{"s":"X(Ce)x3","w":28750,"f":1.4e-17},{"s":"X(Ce)x3","w":29250,"f":1.9e-17},{"s":"X(Ce)x3","w":29750,"f":1.3e-17},
{"s":"L model","w":2680,"f":1.5e-19},{"s":"L model","w":2700,"f":5.2e-19},{"s":"L model","w":2720,"f":1.5e-19},{"s":"L model","w":3500,"f":1.5e-19},{"s":"L model","w":3600,"f":2.6e-19},{"s":"L model","w":3800,"f":3.7e-19},{"s":"L model","w":4000,"f":6.0e-19},{"s":"L model","w":4200,"f":9.7e-19},{"s":"L model","w":4400,"f":1.54e-18},{"s":"L model","w":4600,"f":2.5e-18},{"s":"L model","w":4900,"f":6.4e-18},{"s":"L model","w":5100,"f":9.7e-18},{"s":"L model","w":5300,"f":1.5e-17},{"s":"L model","w":5500,"f":2.1e-17},{"s":"L model","w":5700,"f":2.9e-17},{"s":"L model","w":6000,"f":4.7e-17},{"s":"L model","w":6300,"f":3.5e-17},{"s":"L model","w":6600,"f":5.2e-17},{"s":"L model","w":7000,"f":6.2e-17},{"s":"L model","w":7400,"f":7.5e-17},{"s":"L model","w":7700,"f":1.07e-16},{"s":"L model","w":8200,"f":1.13e-16},{"s":"L model","w":8700,"f":1.2e-16},{"s":"L model","w":9200,"f":1.3e-16},{"s":"L model","w":9700,"f":1.5e-16},{"s":"L model","w":10000,"f":1.78e-16},{"s":"L model","w":10300,"f":2.0e-16},{"s":"L model","w":10700,"f":1.83e-16},{"s":"L model","w":11200,"f":1.5e-16},{"s":"L model","w":11800,"f":1.07e-16},{"s":"L model","w":12400,"f":9.2e-17},{"s":"L model","w":13000,"f":8.4e-17},{"s":"L model","w":13600,"f":7.5e-17},{"s":"L model","w":14400,"f":6.2e-17},{"s":"L model","w":15200,"f":6.9e-17},{"s":"L model","w":15900,"f":5.6e-17},{"s":"L model","w":16700,"f":4.7e-17},{"s":"L model","w":17500,"f":4.1e-17},{"s":"L model","w":18400,"f":3.7e-17},{"s":"L model","w":19300,"f":3.2e-17},{"s":"L model","w":19800,"f":2.6e-17},{"s":"L model","w":20500,"f":2.5e-17},{"s":"L model","w":21000,"f":1.68e-17},{"s":"L model","w":21500,"f":1.94e-17},{"s":"L model","w":22000,"f":1.2e-17},{"s":"L model","w":22500,"f":1.42e-17},{"s":"L model","w":23000,"f":8.7e-18},{"s":"L model","w":23500,"f":1.1e-17},{"s":"L model","w":24000,"f":6.7e-18},{"s":"L model","w":24500,"f":9.2e-18},{"s":"L model","w":25000,"f":6.4e-18},{"s":"L model","w":25500,"f":8.4e-18},{"s":"L model","w":26000,"f":5.2e-18},{"s":"L model","w":26500,"f":6.9e-18},{"s":"L model","w":27000,"f":4.2e-18},{"s":"L model","w":27500,"f":6.4e-18},{"s":"L model","w":28000,"f":3.7e-18},{"s":"L model","w":28500,"f":4.9e-18},{"s":"L model","w":29000,"f":2.8e-18},{"s":"L model","w":29500,"f":4.2e-18},{"s":"L model","w":30000,"f":2.7e-18},
{"s":"L model","w":20150,"f":2.2e-17},{"s":"L model","w":20750,"f":2.37e-17},{"s":"L model","w":21250,"f":1.4e-17},{"s":"L model","w":21750,"f":1.64e-17},{"s":"L model","w":22250,"f":1.1e-17},{"s":"L model","w":22750,"f":1.38e-17},{"s":"L model","w":23250,"f":9.4e-18},{"s":"L model","w":23750,"f":6.9e-18},{"s":"L model","w":24250,"f":9.6e-18},{"s":"L model","w":24750,"f":6.7e-18},{"s":"L model","w":25250,"f":8.9e-18},{"s":"L model","w":25750,"f":5.5e-18},{"s":"L model","w":26250,"f":6.1e-18},{"s":"L model","w":26750,"f":6.6e-18},{"s":"L model","w":27250,"f":4.0e-18},{"s":"L model","w":27750,"f":5.3e-18},{"s":"L model","w":28250,"f":3.65e-18},{"s":"L model","w":28750,"f":5.1e-18},{"s":"L model","w":29250,"f":2.6e-18},{"s":"L model","w":29750,"f":3.55e-18},
{"s":"X(Ce)/3","w":3800,"f":1.5e-19},{"s":"X(Ce)/3","w":3900,"f":2.5e-19},{"s":"X(Ce)/3","w":4000,"f":3.15e-19},{"s":"X(Ce)/3","w":4150,"f":5.2e-19},{"s":"X(Ce)/3","w":4300,"f":8.0e-19},{"s":"X(Ce)/3","w":4500,"f":1.2e-18},{"s":"X(Ce)/3","w":4700,"f":1.88e-18},{"s":"X(Ce)/3","w":4900,"f":2.6e-18},{"s":"X(Ce)/3","w":5100,"f":3.6e-18},{"s":"X(Ce)/3","w":5350,"f":5.4e-18},{"s":"X(Ce)/3","w":5600,"f":7.75e-18},{"s":"X(Ce)/3","w":5900,"f":1.5e-17},{"s":"X(Ce)/3","w":6300,"f":1.04e-17},{"s":"X(Ce)/3","w":6600,"f":1.5e-17},{"s":"X(Ce)/3","w":7000,"f":1.94e-17},{"s":"X(Ce)/3","w":7400,"f":2.6e-17},{"s":"X(Ce)/3","w":7600,"f":3.5e-17},{"s":"X(Ce)/3","w":8200,"f":3.8e-17},{"s":"X(Ce)/3","w":9000,"f":4.3e-17},{"s":"X(Ce)/3","w":9600,"f":5.0e-17},{"s":"X(Ce)/3","w":10000,"f":6.0e-17},{"s":"X(Ce)/3","w":10300,"f":6.9e-17},{"s":"X(Ce)/3","w":10700,"f":6.2e-17},{"s":"X(Ce)/3","w":11200,"f":4.5e-17},{"s":"X(Ce)/3","w":11800,"f":2.9e-17},{"s":"X(Ce)/3","w":12400,"f":2.7e-17},{"s":"X(Ce)/3","w":13000,"f":2.6e-17},{"s":"X(Ce)/3","w":13800,"f":2.35e-17},{"s":"X(Ce)/3","w":14600,"f":2.2e-17},{"s":"X(Ce)/3","w":15500,"f":2.0e-17},{"s":"X(Ce)/3","w":16400,"f":1.6e-17},{"s":"X(Ce)/3","w":17400,"f":1.26e-17},{"s":"X(Ce)/3","w":18300,"f":1.1e-17},{"s":"X(Ce)/3","w":19300,"f":8.9e-18},{"s":"X(Ce)/3","w":20200,"f":7.75e-18},{"s":"X(Ce)/3","w":20500,"f":5.8e-18},{"s":"X(Ce)/3","w":21000,"f":6.2e-18},{"s":"X(Ce)/3","w":21500,"f":3.4e-18},{"s":"X(Ce)/3","w":22000,"f":3.9e-18},{"s":"X(Ce)/3","w":22500,"f":2.2e-18},{"s":"X(Ce)/3","w":23000,"f":2.8e-18},{"s":"X(Ce)/3","w":23500,"f":1.73e-18},{"s":"X(Ce)/3","w":24000,"f":2.2e-18},{"s":"X(Ce)/3","w":24500,"f":1.3e-18},{"s":"X(Ce)/3","w":25000,"f":1.83e-18},{"s":"X(Ce)/3","w":25500,"f":1.13e-18},{"s":"X(Ce)/3","w":26000,"f":1.73e-18},{"s":"X(Ce)/3","w":26500,"f":9.7e-19},{"s":"X(Ce)/3","w":27000,"f":1.46e-18},{"s":"X(Ce)/3","w":27500,"f":8.9e-19},{"s":"X(Ce)/3","w":28000,"f":1.3e-18},{"s":"X(Ce)/3","w":28500,"f":7.1e-19},{"s":"X(Ce)/3","w":29000,"f":1.07e-18},{"s":"X(Ce)/3","w":29500,"f":6.2e-19},{"s":"X(Ce)/3","w":30000,"f":8.5e-19},
{"s":"X(Ce)/3","w":20750,"f":4.6e-18},{"s":"X(Ce)/3","w":21250,"f":5.2e-18},{"s":"X(Ce)/3","w":21750,"f":3.2e-18},{"s":"X(Ce)/3","w":22250,"f":4.0e-18},{"s":"X(Ce)/3","w":22750,"f":2.35e-18},{"s":"X(Ce)/3","w":23250,"f":1.65e-18},{"s":"X(Ce)/3","w":23750,"f":2.35e-18},{"s":"X(Ce)/3","w":24250,"f":1.52e-18},{"s":"X(Ce)/3","w":24750,"f":2.16e-18},{"s":"X(Ce)/3","w":25250,"f":1.23e-18},{"s":"X(Ce)/3","w":25750,"f":1.35e-18},{"s":"X(Ce)/3","w":26250,"f":1.67e-18},{"s":"X(Ce)/3","w":26750,"f":9.0e-19},{"s":"X(Ce)/3","w":27250,"f":1.37e-18},{"s":"X(Ce)/3","w":27750,"f":8.6e-19},{"s":"X(Ce)/3","w":28250,"f":1.41e-18},{"s":"X(Ce)/3","w":28750,"f":8.0e-19},{"s":"X(Ce)/3","w":29250,"f":1.02e-18},{"s":"X(Ce)/3","w":29750,"f":5.7e-19},
{"s":"X(Ce)/10","w":4100,"f":1.5e-19},{"s":"X(Ce)/10","w":4200,"f":2.2e-19},{"s":"X(Ce)/10","w":4300,"f":2.8e-19},{"s":"X(Ce)/10","w":4500,"f":4.3e-19},{"s":"X(Ce)/10","w":4700,"f":6.6e-19},{"s":"X(Ce)/10","w":4900,"f":9.7e-19},{"s":"X(Ce)/10","w":5100,"f":1.42e-18},{"s":"X(Ce)/10","w":5300,"f":1.88e-18},{"s":"X(Ce)/10","w":5500,"f":2.5e-18},{"s":"X(Ce)/10","w":5700,"f":3.5e-18},{"s":"X(Ce)/10","w":5900,"f":4.8e-18},{"s":"X(Ce)/10","w":6200,"f":3.5e-18},{"s":"X(Ce)/10","w":6400,"f":4.0e-18},{"s":"X(Ce)/10","w":6800,"f":5.1e-18},{"s":"X(Ce)/10","w":7200,"f":6.4e-18},{"s":"X(Ce)/10","w":7600,"f":7.75e-18},{"s":"X(Ce)/10","w":7900,"f":1.3e-17},{"s":"X(Ce)/10","w":8500,"f":1.38e-17},{"s":"X(Ce)/10","w":9000,"f":1.5e-17},{"s":"X(Ce)/10","w":9500,"f":1.73e-17},{"s":"X(Ce)/10","w":9900,"f":2.05e-17},{"s":"X(Ce)/10","w":10200,"f":2.2e-17},{"s":"X(Ce)/10","w":10600,"f":2.05e-17},{"s":"X(Ce)/10","w":11100,"f":1.6e-17},{"s":"X(Ce)/10","w":11800,"f":1.13e-17},{"s":"X(Ce)/10","w":12400,"f":9.45e-18},{"s":"X(Ce)/10","w":13100,"f":8.4e-18},{"s":"X(Ce)/10","w":13800,"f":7.1e-18},{"s":"X(Ce)/10","w":14600,"f":6.2e-18},{"s":"X(Ce)/10","w":15500,"f":5.4e-18},{"s":"X(Ce)/10","w":16400,"f":4.2e-18},{"s":"X(Ce)/10","w":17400,"f":3.3e-18},{"s":"X(Ce)/10","w":18400,"f":2.6e-18},{"s":"X(Ce)/10","w":19300,"f":2.05e-18},{"s":"X(Ce)/10","w":20000,"f":1.78e-18},{"s":"X(Ce)/10","w":20600,"f":1.54e-18},{"s":"X(Ce)/10","w":21000,"f":1.07e-18},{"s":"X(Ce)/10","w":21500,"f":9.5e-19},{"s":"X(Ce)/10","w":22000,"f":5.4e-19},{"s":"X(Ce)/10","w":22500,"f":6.4e-19},{"s":"X(Ce)/10","w":23000,"f":3.85e-19},{"s":"X(Ce)/10","w":23500,"f":5.1e-19},{"s":"X(Ce)/10","w":24000,"f":3.05e-19},{"s":"X(Ce)/10","w":24500,"f":4.3e-19},{"s":"X(Ce)/10","w":25000,"f":2.65e-19},{"s":"X(Ce)/10","w":25500,"f":3.7e-19},{"s":"X(Ce)/10","w":26000,"f":2.4e-19},{"s":"X(Ce)/10","w":26500,"f":3.6e-19},{"s":"X(Ce)/10","w":27000,"f":2.05e-19},{"s":"X(Ce)/10","w":27500,"f":3.3e-19},{"s":"X(Ce)/10","w":28000,"f":2.0e-19},{"s":"X(Ce)/10","w":28500,"f":3.4e-19},{"s":"X(Ce)/10","w":29000,"f":1.8e-19},{"s":"X(Ce)/10","w":29500,"f":3.05e-19},{"s":"X(Ce)/10","w":30000,"f":1.9e-19},
{"s":"X(Ce)/10","w":20800,"f":1.58e-18},{"s":"X(Ce)/10","w":21250,"f":7.8e-19},{"s":"X(Ce)/10","w":21750,"f":8.1e-19},{"s":"X(Ce)/10","w":22250,"f":4.7e-19},{"s":"X(Ce)/10","w":22750,"f":6.1e-19},{"s":"X(Ce)/10","w":23250,"f":3.3e-19},{"s":"X(Ce)/10","w":23750,"f":4.75e-19},{"s":"X(Ce)/10","w":24250,"f":5.2e-19},{"s":"X(Ce)/10","w":24750,"f":2.9e-19},{"s":"X(Ce)/10","w":25250,"f":4.3e-19},{"s":"X(Ce)/10","w":25750,"f":2.34e-19},{"s":"X(Ce)/10","w":26250,"f":4.1e-19},{"s":"X(Ce)/10","w":26750,"f":2.34e-19},{"s":"X(Ce)/10","w":27250,"f":4.1e-19},{"s":"X(Ce)/10","w":27750,"f":2.15e-19},{"s":"X(Ce)/10","w":28250,"f":3.4e-19},{"s":"X(Ce)/10","w":28750,"f":1.97e-19},{"s":"X(Ce)/10","w":29250,"f":3.6e-19},{"s":"X(Ce)/10","w":29750,"f":2.03e-19}
]
},
"hconcat":[
{
"width":532,"height":381,
"layer":[
{"data":{"values":[{"s":"X(La)x10","w":300,"f":9.0e-16},{"s":"X(La)x3","w":300,"f":2.9e-16},{"s":"L model","w":300,"f":1.05e-16},{"s":"X(La)/3","w":300,"f":4.1e-17},{"s":"X(La)/10","w":300,"f":1.48e-17},{"s":"X(La)/30","w":300,"f":5.1e-18}]},
"mark":{"type":"text","align":"left","baseline":"middle","fontSize":15},
"encoding":{
"x":{"field":"w","type":"quantitative","scale":{"domain":[0,30000],"nice":false,"zero":false},"axis":{"orient":"top","values":[0,5000,10000,15000,20000,25000,30000],"labels":false,"ticks":true,"tickSize":-6,"domain":false,"grid":false,"title":null}},
"y":{"field":"f","type":"quantitative","scale":{"type":"log","domain":[2e-19,1e-14],"nice":false},"axis":{"orient":"right","values":[1e-18,1e-17,1e-16,1e-15,1e-14],"labels":false,"ticks":true,"tickSize":-6,"domain":false,"grid":false,"title":null}},
"text":{"field":"s"},
"color":{"field":"s","type":"nominal","scale":{"domain":["X(La)x10","X(La)x3","L model","X(La)/3","X(La)/10","X(La)/30"],"range":["#ee82ee","#9400d3","#000080","#0000cd","#4169e1","#87ceeb"]},"legend":null}}},
{"data":{"name":"la"},
"mark":{"type":"line","strokeWidth":1.3,"clip":true},
"encoding":{
"x":{"field":"w","type":"quantitative","scale":{"domain":[0,30000],"nice":false,"zero":false},"axis":{"orient":"bottom","values":[0,5000,10000,15000,20000,25000,30000],"format":"d","ticks":false,"domain":false,"grid":false,"labelFontSize":17,"labelPadding":10,"labelFlush":false,"labelOverlap":false,"title":"Wavelength (Å)","titleFontSize":17,"titleFontWeight":"normal","titleY":46,"titleBaseline":"middle"}},
"y":{"field":"f","type":"quantitative","scale":{"type":"log","domain":[2e-19,1e-14],"nice":false},"axis":{"orient":"left","values":[1e-18,1e-17,1e-16,1e-15,1e-14],"labelExpr":"datum.value > 5e-15 ? '10⁻¹⁴' : datum.value > 5e-16 ? '10⁻¹⁵' : datum.value > 5e-17 ? '10⁻¹⁶' : datum.value > 5e-18 ? '10⁻¹⁷' : '10⁻¹⁸'","ticks":false,"domain":false,"grid":false,"labelFontSize":17,"labelPadding":9,"labelFlush":false,"labelOverlap":false,"title":"Flux (erg s⁻¹ cm⁻² Å⁻¹) + const","titleFontSize":17,"titleFontWeight":"normal","titleX":-67,"titleBaseline":"middle"}},
"color":{"field":"s","type":"nominal","scale":{"domain":["X(La)x10","X(La)x3","L model","X(La)/3","X(La)/10","X(La)/30"],"range":["#ee82ee","#9400d3","#000080","#0000cd","#4169e1","#87ceeb"]},"legend":null}}},
{"data":{"values":[{"c":"X(La)x10","w":18000,"f":1.54e-15,"w2":21500,"f2":9.0e-16},{"c":"X(La)/30","w":16500,"f":2.56e-18,"w2":20000,"f2":1.45e-18}]},
"mark":{"type":"rule","strokeWidth":1.1},
"encoding":{
"x":{"field":"w","type":"quantitative","scale":{"domain":[0,30000],"nice":false,"zero":false},"axis":{"orient":"bottom","values":[1000,2000,3000,4000,6000,7000,8000,9000,11000,12000,13000,14000,16000,17000,18000,19000,21000,22000,23000,24000,26000,27000,28000,29000],"labels":false,"ticks":true,"tickSize":-3,"domain":false,"grid":false,"title":null}},
"x2":{"field":"w2"},
"y":{"field":"f","type":"quantitative","scale":{"type":"log","domain":[2e-19,1e-14],"nice":false},"axis":{"orient":"left","values":[2e-19,3e-19,4e-19,5e-19,6e-19,7e-19,8e-19,9e-19,2e-18,3e-18,4e-18,5e-18,6e-18,7e-18,8e-18,9e-18,2e-17,3e-17,4e-17,5e-17,6e-17,7e-17,8e-17,9e-17,2e-16,3e-16,4e-16,5e-16,6e-16,7e-16,8e-16,9e-16,2e-15,3e-15,4e-15,5e-15,6e-15,7e-15,8e-15,9e-15],"labels":false,"ticks":true,"tickSize":-3,"domain":false,"grid":false,"title":null}},
"y2":{"field":"f2"},
"color":{"field":"c","type":"nominal","scale":{"domain":["X(La)x10","X(La)x3","L model","X(La)/3","X(La)/10","X(La)/30"],"range":["#ee82ee","#9400d3","#000080","#0000cd","#4169e1","#87ceeb"]},"legend":null}}},
{"data":{"values":[{"w":12450,"f":7.97e-15,"f2":3.93e-15}]},
"mark":{"type":"rule","strokeWidth":1.2,"color":"#ee82ee"},
"encoding":{
"x":{"field":"w","type":"quantitative","scale":{"domain":[0,30000],"nice":false,"zero":false},"axis":{"orient":"top","values":[1000,2000,3000,4000,6000,7000,8000,9000,11000,12000,13000,14000,16000,17000,18000,19000,21000,22000,23000,24000,26000,27000,28000,29000],"labels":false,"ticks":true,"tickSize":-3,"domain":false,"grid":false,"title":null}},
"y":{"field":"f","type":"quantitative","scale":{"type":"log","domain":[2e-19,1e-14],"nice":false},"axis":{"orient":"right","values":[2e-19,3e-19,4e-19,5e-19,6e-19,7e-19,8e-19,9e-19,2e-18,3e-18,4e-18,5e-18,6e-18,7e-18,8e-18,9e-18,2e-17,3e-17,4e-17,5e-17,6e-17,7e-17,8e-17,9e-17,2e-16,3e-16,4e-16,5e-16,6e-16,7e-16,8e-16,9e-16,2e-15,3e-15,4e-15,5e-15,6e-15,7e-15,8e-15,9e-15],"labels":false,"ticks":true,"tickSize":-3,"domain":false,"grid":false,"title":null}},
"y2":{"field":"f2"}}},
{"data":{"values":[{"w":12450,"f":3.93e-15}]},
"mark":{"type":"point","shape":"M-0.7,-1L0.7,-1L0,1Z","filled":true,"size":100,"color":"#ee82ee","opacity":1},
"encoding":{
"x":{"field":"w","type":"quantitative","scale":{"domain":[0,30000],"nice":false,"zero":false},"axis":{"orient":"bottom","values":[0,5000,10000,15000,20000,25000,30000],"labels":false,"ticks":true,"tickSize":-6,"domain":false,"grid":false,"title":null}},
"y":{"field":"f","type":"quantitative","scale":{"type":"log","domain":[2e-19,1e-14],"nice":false},"axis":{"orient":"left","values":[1e-18,1e-17,1e-16,1e-15,1e-14],"labels":false,"ticks":true,"tickSize":-6,"domain":false,"grid":false,"title":null}}}},
{"data":{"values":[{"w":500,"f":6.2e-15,"t":"X(La)"}]},
"mark":{"type":"text","align":"left","baseline":"middle","fontSize":17,"color":"black"},
"encoding":{
"x":{"field":"w","type":"quantitative","scale":{"domain":[0,30000],"nice":false,"zero":false},"axis":null},
"y":{"field":"f","type":"quantitative","scale":{"type":"log","domain":[2e-19,1e-14],"nice":false},"axis":null},
"text":{"field":"t"}}}
],
"resolve":{"axis":{"x":"independent","y":"independent"}}
},
{
"width":532,"height":381,
"layer":[
{"data":{"values":[{"s":"X(Ce)x30","w":300,"f":9.0e-16},{"s":"X(Ce)x10","w":300,"f":3.07e-16},{"s":"X(Ce)x3","w":300,"f":9.9e-17},{"s":"L model","w":300,"f":4.0e-17},{"s":"X(Ce)/3","w":300,"f":1.52e-17},{"s":"X(Ce)/10","w":300,"f":5.1e-18}]},
"mark":{"type":"text","align":"left","baseline":"middle","fontSize":15},
"encoding":{
"x":{"field":"w","type":"quantitative","scale":{"domain":[0,30000],"nice":false,"zero":false},"axis":{"orient":"top","values":[0,5000,10000,15000,20000,25000,30000],"labels":false,"ticks":true,"tickSize":-6,"domain":false,"grid":false,"title":null}},
"y":{"field":"f","type":"quantitative","scale":{"type":"log","domain":[2e-19,1e-14],"nice":false},"axis":{"orient":"right","values":[1e-18,1e-17,1e-16,1e-15,1e-14],"labels":false,"ticks":true,"tickSize":-6,"domain":false,"grid":false,"title":null}},
"text":{"field":"s"},
"color":{"field":"s","type":"nominal","scale":{"domain":["X(Ce)x30","X(Ce)x10","X(Ce)x3","L model","X(Ce)/3","X(Ce)/10"],"range":["#ffb6c1","#ee82ee","#9400d3","#000080","#0000cd","#4169e1"]},"legend":null}}},
{"data":{"name":"ce"},
"mark":{"type":"line","strokeWidth":1.3,"clip":true},
"encoding":{
"x":{"field":"w","type":"quantitative","scale":{"domain":[0,30000],"nice":false,"zero":false},"axis":{"orient":"bottom","values":[0,5000,10000,15000,20000,25000,30000],"format":"d","ticks":false,"domain":false,"grid":false,"labelFontSize":17,"labelPadding":10,"labelFlush":false,"labelOverlap":false,"title":"Wavelength (Å)","titleFontSize":17,"titleFontWeight":"normal","titleY":46,"titleBaseline":"middle"}},
"y":{"field":"f","type":"quantitative","scale":{"type":"log","domain":[2e-19,1e-14],"nice":false},"axis":{"orient":"left","values":[1e-18,1e-17,1e-16,1e-15,1e-14],"labelExpr":"datum.value > 5e-15 ? '10⁻¹⁴' : datum.value > 5e-16 ? '10⁻¹⁵' : datum.value > 5e-17 ? '10⁻¹⁶' : datum.value > 5e-18 ? '10⁻¹⁷' : '10⁻¹⁸'","ticks":false,"domain":false,"grid":false,"labelFontSize":17,"labelPadding":9,"labelFlush":false,"labelOverlap":false,"title":"Flux (erg s⁻¹ cm⁻² Å⁻¹) + const","titleFontSize":17,"titleFontWeight":"normal","titleX":-67,"titleBaseline":"middle"}},
"color":{"field":"s","type":"nominal","scale":{"domain":["X(Ce)x30","X(Ce)x10","X(Ce)x3","L model","X(Ce)/3","X(Ce)/10"],"range":["#ffb6c1","#ee82ee","#9400d3","#000080","#0000cd","#4169e1"]},"legend":null}}},
{"data":{"values":[{"c":"X(Ce)x30","w":18000,"f":1.54e-15,"w2":21500,"f2":1.12e-15},{"c":"X(Ce)/10","w":16450,"f":2.35e-18,"w2":20000,"f2":8.2e-19}]},
"mark":{"type":"rule","strokeWidth":1.1},
"encoding":{
"x":{"field":"w","type":"quantitative","scale":{"domain":[0,30000],"nice":false,"zero":false},"axis":{"orient":"bottom","values":[1000,2000,3000,4000,6000,7000,8000,9000,11000,12000,13000,14000,16000,17000,18000,19000,21000,22000,23000,24000,26000,27000,28000,29000],"labels":false,"ticks":true,"tickSize":-3,"domain":false,"grid":false,"title":null}},
"x2":{"field":"w2"},
"y":{"field":"f","type":"quantitative","scale":{"type":"log","domain":[2e-19,1e-14],"nice":false},"axis":{"orient":"left","values":[2e-19,3e-19,4e-19,5e-19,6e-19,7e-19,8e-19,9e-19,2e-18,3e-18,4e-18,5e-18,6e-18,7e-18,8e-18,9e-18,2e-17,3e-17,4e-17,5e-17,6e-17,7e-17,8e-17,9e-17,2e-16,3e-16,4e-16,5e-16,6e-16,7e-16,8e-16,9e-16,2e-15,3e-15,4e-15,5e-15,6e-15,7e-15,8e-15,9e-15],"labels":false,"ticks":true,"tickSize":-3,"domain":false,"grid":false,"title":null}},
"y2":{"field":"f2"},
"color":{"field":"c","type":"nominal","scale":{"domain":["X(Ce)x30","X(Ce)x10","X(Ce)x3","L model","X(Ce)/3","X(Ce)/10"],"range":["#ffb6c1","#ee82ee","#9400d3","#000080","#0000cd","#4169e1"]},"legend":null}}},
{"data":{"values":[{"w":14500,"f":6.0e-15,"f2":2.8e-15}]},
"mark":{"type":"rule","strokeWidth":1.2,"color":"#ffa500"},
"encoding":{
"x":{"field":"w","type":"quantitative","scale":{"domain":[0,30000],"nice":false,"zero":false},"axis":{"orient":"top","values":[1000,2000,3000,4000,6000,7000,8000,9000,11000,12000,13000,14000,16000,17000,18000,19000,21000,22000,23000,24000,26000,27000,28000,29000],"labels":false,"ticks":true,"tickSize":-3,"domain":false,"grid":false,"title":null}},
"y":{"field":"f","type":"quantitative","scale":{"type":"log","domain":[2e-19,1e-14],"nice":false},"axis":{"orient":"right","values":[2e-19,3e-19,4e-19,5e-19,6e-19,7e-19,8e-19,9e-19,2e-18,3e-18,4e-18,5e-18,6e-18,7e-18,8e-18,9e-18,2e-17,3e-17,4e-17,5e-17,6e-17,7e-17,8e-17,9e-17,2e-16,3e-16,4e-16,5e-16,6e-16,7e-16,8e-16,9e-16,2e-15,3e-15,4e-15,5e-15,6e-15,7e-15,8e-15,9e-15],"labels":false,"ticks":true,"tickSize":-3,"domain":false,"grid":false,"title":null}},
"y2":{"field":"f2"}}},
{"data":{"values":[{"w":14500,"f":2.8e-15}]},
"mark":{"type":"point","shape":"M-0.7,-1L0.7,-1L0,1Z","filled":true,"size":100,"color":"#ffa500","opacity":1},
"encoding":{
"x":{"field":"w","type":"quantitative","scale":{"domain":[0,30000],"nice":false,"zero":false},"axis":{"orient":"bottom","values":[0,5000,10000,15000,20000,25000,30000],"labels":false,"ticks":true,"tickSize":-6,"domain":false,"grid":false,"title":null}},
"y":{"field":"f","type":"quantitative","scale":{"type":"log","domain":[2e-19,1e-14],"nice":false},"axis":{"orient":"left","values":[1e-18,1e-17,1e-16,1e-15,1e-14],"labels":false,"ticks":true,"tickSize":-6,"domain":false,"grid":false,"title":null}}}},
{"data":{"values":[{"w":500,"f":5.7e-15,"t":"X(Ce)"}]},
"mark":{"type":"text","align":"left","baseline":"middle","fontSize":17,"color":"black"},
"encoding":{
"x":{"field":"w","type":"quantitative","scale":{"domain":[0,30000],"nice":false,"zero":false},"axis":null},
"y":{"field":"f","type":"quantitative","scale":{"type":"log","domain":[2e-19,1e-14],"nice":false},"axis":null},
"text":{"field":"t"}}}
],
"resolve":{"axis":{"x":"independent","y":"independent"}}
}
]
}
